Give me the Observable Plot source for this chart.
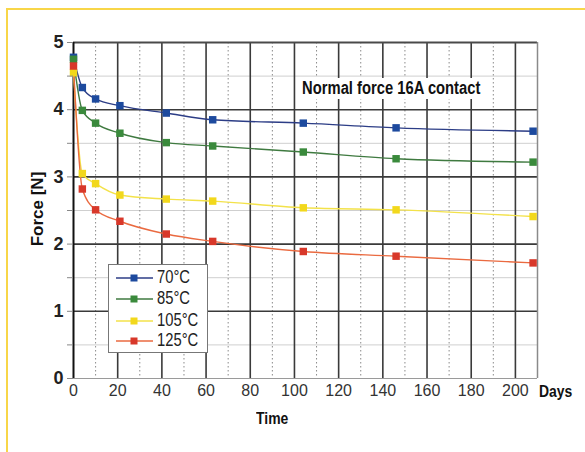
<!DOCTYPE html>
<html>
<head>
<meta charset="utf-8">
<script src="https://cdn.jsdelivr.net/npm/d3@7"></script>
<script src="https://cdn.jsdelivr.net/npm/@observablehq/plot@0.6"></script>
<style>
  html, body { margin: 0; padding: 0; background: #fff; }
  #wrap { position: relative; width: 585px; height: 452px; overflow: hidden; background: #fff;
          font-family: "Liberation Sans", Arial, sans-serif; }
  #frame { position: absolute; left: 6px; top: 8px; width: 620px; height: 520px; border: 2px solid #f8d648; }
  #chart { position: absolute; left: 0; top: 0; }
  .lbl { position: absolute; font-weight: bold; color: #111; white-space: nowrap; }
  .narrow { transform-origin: 0 50%; transform: scaleX(0.82); }
  #title { left: 298px; top: 78px; font-size: 18px; background: #fff; padding: 0 5px; line-height: 21px; }
  #days { left: 539px; top: 382px; font-size: 17px; }
  #time { left: 256px; top: 409px; font-size: 17px; }
  #ylab { left: 38px; top: 209px; font-size: 17px;
          transform: translate(-50%, -50%) rotate(-90deg); }
  #legend { position: absolute; left: 108px; top: 264px; width: 98px; height: 87px; border: 1px solid #777; background: #fff; }
  .row { position: absolute; left: 0; height: 20px; width: 96px; }
  .row svg { position: absolute; left: 7px; top: 2px; }
  .row span { position: absolute; left: 48px; top: -1px; font-size: 18px; color: #222;
              transform-origin: 0 50%; transform: scaleX(0.82); }
</style>
</head>
<body>
<div id="wrap">
  <div id="frame"></div>
  <div id="chart"></div>
  <div id="title" class="lbl narrow">Normal force 16A contact</div>
  <div id="days" class="lbl narrow">Days</div>
  <div id="time" class="lbl narrow">Time</div>
  <div id="ylab" class="lbl">Force [N]</div>
  <div id="legend"></div>
</div>
<script>
// ---- data ----
const days = [0, 4, 10, 21, 42, 63, 104, 146, 208];
const force70  = [4.78, 4.33, 4.16, 4.06, 3.95, 3.85, 3.80, 3.73, 3.68];
const force85  = [4.75, 3.99, 3.80, 3.65, 3.51, 3.46, 3.37, 3.27, 3.22];
const force105 = [4.55, 3.05, 2.90, 2.73, 2.67, 2.64, 2.54, 2.51, 2.41];
const force125 = [4.65, 2.82, 2.51, 2.34, 2.15, 2.04, 1.89, 1.82, 1.72];
const seriesNames = ["70°C", "85°C", "105°C", "125°C"];
const xTicks = [0, 20, 40, 60, 80, 100, 120, 140, 160, 180, 200];
const yTicks = [0, 1, 2, 3, 4, 5];

const lineColors = ["#2c3d86", "#3f7a40", "#f3e24a", "#ea6a40"];
const dotColors  = ["#1d4a9e", "#3a8a3c", "#f2d81c", "#d8382a"];

const allSeries = [force70, force85, force105, force125];
const rows = [];
allSeries.forEach((vals, si) => vals.forEach((v, i) => rows.push({series: seriesNames[si], day: days[i], force: v})));

const minorX = d3.range(10, 200, 20);
const majorX = d3.range(20, 201, 20);
const minorY = [0.5, 1.5, 2.5, 3.5, 4.5];
const majorY = [1, 2, 3, 4];

const marks = [
  Plot.ruleY(minorY, {stroke: "#cfcfcf", strokeWidth: 1}),
  Plot.ruleX(minorX, {stroke: "#8a8a8a", strokeWidth: 1, strokeDasharray: "1.5,2.5"}),
  Plot.ruleY(majorY, {stroke: "#3a3a3a", strokeWidth: 1.6}),
  Plot.ruleX(majorX, {stroke: "#3a3a3a", strokeWidth: 1.6}),
  Plot.ruleY([0], {stroke: "#9a9a9a", strokeWidth: 1}),
  Plot.ruleY([5], {stroke: "#4a4a4a", strokeWidth: 2}),
  Plot.ruleX([210], {stroke: "#8a8a8a", strokeWidth: 1.5}),
  Plot.ruleX([0], {stroke: "#111", strokeWidth: 2}),
];
seriesNames.forEach((name, si) => {
  const data = rows.filter(r => r.series === name);
  marks.push(Plot.line(data, {x: "day", y: "force", stroke: lineColors[si], strokeWidth: 1.4, curve: "monotone-x"}));
});
seriesNames.forEach((name, si) => {
  const data = rows.filter(r => r.series === name);
  marks.push(Plot.dot(data, {x: "day", y: "force", symbol: "square", r: 4.2, fill: dotColors[si], stroke: null}));
});
marks.push(
  Plot.axisY(d3.range(0, 5.01, 0.5), {tickSize: 6, stroke: "#888", text: null, label: null}),
  Plot.axisY(yTicks, {tickSize: 0, tickPadding: 10, fontSize: 18, fontWeight: "bold", fill: "#222",
                       tickFormat: "d", label: null}),
  Plot.axisX(xTicks, {tickSize: 0, tickPadding: 6, fontSize: 16, fill: "#333", tickFormat: "d", label: null})
);

const chart = Plot.plot({
  width: 585,
  height: 452,
  marginLeft: 73,
  marginRight: 48,
  marginTop: 42,
  marginBottom: 74,
  style: {background: "transparent", fontFamily: "Liberation Sans, Arial, sans-serif"},
  x: {domain: [0, 210]},
  y: {domain: [0, 5]},
  marks
});
document.getElementById("chart").appendChild(chart);

// legend
const legend = document.getElementById("legend");
const rowTops = [3, 24, 46, 66];
seriesNames.forEach((name, si) => {
  const row = document.createElement("div");
  row.className = "row";
  row.style.top = rowTops[si] + "px";
  row.innerHTML = `<svg width="38" height="16"><line x1="0" y1="8" x2="37" y2="8" stroke="${lineColors[si]}" stroke-width="1.6"/>` +
    `<rect x="14.5" y="4.5" width="7" height="7" fill="${dotColors[si]}"/></svg><span>${name}</span>`;
  legend.appendChild(row);
});
</script>
</body>
</html>
